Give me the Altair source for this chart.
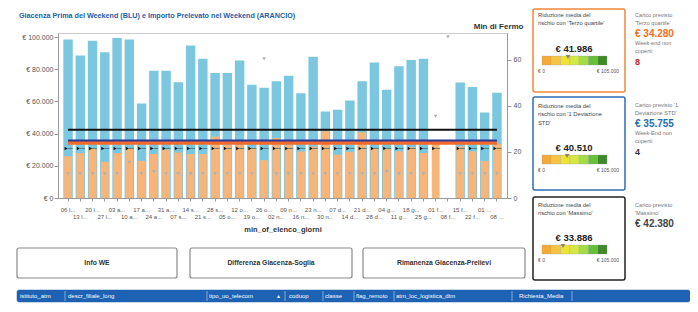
import altair as alt
import pandas as pd

# ---------------- data ----------------
weeks = ["06 l...", "13 l...", "20 l...", "27 l...", "03 a...", "10 a...", "17 a...", "24 a...",
         "31 a...", "07 s...", "14 s...", "21 s...", "28 s...", "05 o...", "12 o...", "19 o...",
         "26 o...", "02 n...", "09 n...", "16 n...", "23 n...", "30 n...", "07 d...", "14 d...",
         "21 d...", "28 d...", "04 g...", "11 g...", "18 g...", "25 g...", "01 f...", "08 f...",
         "15 f...", "22 f...", "01 ...", "08 ..."]
giacenza = [98500, 88500, 97700, 90600, 99400, 98500, 58700, 79000, 79000, 71900, 94800, 86500,
            77700, 77700, 85400, 70400, 68500, 72500, 76000, 65000, 87700, 53700, 54800, 60600,
            72600, 84200, 67300, 81900, 85800, 86500, None, 0, 71700, 68900, 53100, 65400]
prelevato = [26000, 27900, 31000, 22500, 27900, 31000, 23100, 27300, 30000, 28300, 27300, 27300,
             38200, 33000, 33000, 31000, 23500, 37300, 33000, 28900, 32000, 41500, 26900, 28700,
             40800, 31000, 31000, 29000, 31500, 27900, 34500, 0, 32000, 29000, 23100, 33500]
soglia = [30800] * 31 + [None] + [30800] * 4
min_fermo = [10.5, 10.5, 10.5, 10.5, 10.5, 15.5, 10.5, 11.5, 10.5, 10.5, 10.5, 10.5,
             10.5, 10.5, 10.5, 10.5, 60.5, 10.5, 10.5, 10.5, 10.5, 10.5, 10.5, 10.5,
             10.5, 10.5, 11.5, 10.5, 10.5, 10.5, 35.5, 70.0, 10.5, 10.5, 10.5, 10.5]

carico_labels = ["'Terzo quartile'", "'1 Deviazione STD'", "'Massimo'"]
carico = [34280, 35755, 42380]
riduzione = [41986, 40510, 33886]
we_non_coperti = [8, 4]
gauge_max = 105000
gauge_breaks = [0, 15000, 30000, 45000, 60000, 75000, 90000, 105000]
gauge_colors = ["#f4ab35", "#f6c343", "#eee434", "#d4e844", "#a4dc46", "#67c03a", "#3e8a2a"]
buttons = ["Info WE", "Differenza Giacenza-Soglia", "Rimanenza Giacenza-Prelievi"]
table_columns = ["istituto_atm", "descr_filiale_long", "tipo_uo_telecom", "coduop", "classe",
                 "flag_remoto", "atm_loc_logistica_dtm", "Richiesta_Media"]
chart_title = "Giacenza Prima del Weekend (BLU) e Importo Prelevato nel Weekend (ARANCIO)"

FONT = "Liberation Sans"
OX, OY = 58, 33      # page position of the plot origin
W, H = 449, 165


def eur(v):
    return "€ " + f"{v:,.0f}".replace(",", ".")


def P(x, y):
    return x - OX, y - OY


# ---------------- main chart ----------------
df = pd.DataFrame({"week": weeks, "giacenza": giacenza, "prelevato": prelevato,
                   "soglia": soglia, "fermo": min_fermo})
df["terzo"] = carico[0]
df["devstd"] = carico[1]
df["massimo"] = carico[2]

xs = alt.Scale(domain=weeks, paddingInner=0, paddingOuter=0.32)
x_axis = alt.Axis(title="min_of_elenco_giorni", labelAngle=0, labelFontSize=6, labelColor="#555",
                  labelExpr="round(datum.index * 35) % 2 == 0 ? [datum.label, ''] : ['', datum.label]",
                  labelLineHeight=7, tickSize=3, tickColor="#999", domainColor="#999",
                  labelPadding=5, titleFontSize=7.5, titleFontWeight="bold", titleColor="#333",
                  titleY=31, titleBaseline="middle")
X = alt.X("week:N", scale=xs, axis=x_axis)
ymain = alt.Scale(domain=[0, 102500], nice=False)
left_axis = alt.Axis(values=[0, 20000, 40000, 60000, 80000, 100000], title=None, grid=False,
                     labelExpr="'€ ' + replace(format(datum.value, ',.0f'), ',', '.')",
                     labelFontSize=7, labelColor="#555", tickSize=4, tickColor="#999",
                     domainColor="#999", labelPadding=1)

blue = alt.Chart(df).mark_bar(color="#7cc7e0", width=alt.RelativeBandSize(0.77)).encode(
    x=X, y=alt.Y("giacenza:Q", scale=ymain, axis=left_axis))
orange = alt.Chart(df).mark_bar(color="#f7b57a", width=alt.RelativeBandSize(0.64)).encode(
    x=X, y=alt.Y("prelevato:Q", scale=ymain, axis=None))
l_orange = alt.Chart(df).mark_line(color="#f26a2b", strokeWidth=4).encode(
    x=X, y=alt.Y("terzo:Q", scale=ymain, axis=None))
l_blue = alt.Chart(df).mark_line(color="#26399a", strokeWidth=2).encode(
    x=X, y=alt.Y("devstd:Q", scale=ymain, axis=None))
l_black = alt.Chart(df).mark_line(color="#111111", strokeWidth=2).encode(
    x=X, y=alt.Y("massimo:Q", scale=ymain, axis=None))
mk_tri = alt.Chart(df).mark_point(shape="triangle-right", filled=True, color="#111", size=12,
                                  opacity=1, xOffset=-2).encode(
    x=X, y=alt.Y("soglia:Q", scale=ymain, axis=None))
mk_tail = alt.Chart(df).mark_tick(orient="horizontal", color="#2d5c5c", size=5, thickness=1,
                                  xOffset=2).encode(
    x=X, y=alt.Y("soglia:Q", scale=ymain, axis=None))
right_axis = alt.Axis(orient="right", values=[0, 20, 40, 60], title="Min di Fermo", grid=False,
                      titleAngle=0, titleAlign="right", titleBaseline="bottom", titleX=16,
                      titleY=-3, titleFontSize=8, titleFontWeight="bold", titleColor="#333",
                      labelFontSize=7, labelColor="#555", tickSize=4, tickColor="#999",
                      domainColor="#999")
fermo = alt.Chart(df).mark_point(shape="triangle-down", filled=True, color="#b0b0b0", size=14,
                                 opacity=1).encode(
    x=X, y=alt.Y("fermo:Q", scale=alt.Scale(domain=[0, 71.7], nice=False), axis=right_axis))

main = alt.layer(blue, orange, l_orange, l_blue, l_black, mk_tri, mk_tail, fermo).resolve_scale(
    y="independent")


# ---------------- decorations ----------------
def text_layer(rows, align="left", bold=False):
    d = pd.DataFrame(rows)
    return alt.Chart(d).mark_text(align=align, baseline="middle", font=FONT,
                                  fontWeight="bold" if bold else "normal").encode(
        x=alt.X("px:Q", scale=None, axis=None),
        y=alt.Y("py:Q", scale=None, axis=None),
        text="text:N",
        size=alt.Size("size:Q", scale=None, legend=None),
        color=alt.Color("color:N", scale=None, legend=None))


def T(text, x, y, size, color):
    px, py = P(x, y)
    return {"px": px, "py": py, "text": text, "size": size, "color": color}


def R(x1, y1, x2, y2, fill, stroke, sw):
    a, b = P(x1, y1)
    c, d = P(x2, y2)
    return {"px": a, "py": b, "px2": c, "py2": d, "fill": fill, "stroke": stroke, "sw": sw}


rects = []
btn_x = [(17, 177), (190, 352), (363, 525)]
for (a, b) in btn_x:
    rects.append(R(a, 248, b, 278, "#ffffff", "#8a8a8a", 1.2))
rects.append(R(17, 290, 690, 302, "#1d62b3", "#1d62b3", 0.5))
kpi_box_y = [(9, 92), (97, 190), (197, 280)]
kpi_stroke = ["#f0883a", "#2f6db5", "#222222"]
for (a, b), s in zip(kpi_box_y, kpi_stroke):
    rects.append(R(533, a, 625, b, "#ffffff", s, 1.5))
rect_df = pd.DataFrame(rects)
rect_layer = alt.Chart(rect_df).mark_rect(cornerRadius=2).encode(
    x=alt.X("px:Q", scale=None, axis=None), x2="px2:Q",
    y=alt.Y("py:Q", scale=None, axis=None), y2="py2:Q",
    fill=alt.Fill("fill:N", scale=None, legend=None),
    stroke=alt.Stroke("stroke:N", scale=None, legend=None),
    strokeWidth=alt.StrokeWidth("sw:Q", scale=None, legend=None))

sep_x = [65, 207, 285, 323, 354, 394, 512, 572]
sep_df = pd.DataFrame([{"px": P(x, 0)[0], "py": P(0, 291)[1], "py2": P(0, 301)[1]} for x in sep_x])
sep_layer = alt.Chart(sep_df).mark_rule(color="#9dbde3", strokeWidth=0.8).encode(
    x=alt.X("px:Q", scale=None, axis=None),
    y=alt.Y("py:Q", scale=None, axis=None), y2="py2:Q")

gauge_y = [(56, 65), (155, 164), (245, 254)]
g_rows = []
for (ga, gb) in gauge_y:
    for i, c in enumerate(gauge_colors):
        g_rows.append({"start": gauge_breaks[i], "end": gauge_breaks[i + 1], "fill": c,
                       "py": P(0, ga)[1], "py2": P(0, gb)[1]})
g_df = pd.DataFrame(g_rows)
gx = alt.Scale(domain=[0, gauge_max], range=[P(542, 0)[0], P(607, 0)[0]])
gauge_layer = alt.Chart(g_df).mark_rect(stroke="#9a9a9a", strokeWidth=0.3).encode(
    x=alt.X("start:Q", scale=gx, axis=None), x2="end:Q",
    y=alt.Y("py:Q", scale=None, axis=None), y2="py2:Q",
    fill=alt.Fill("fill:N", scale=None, legend=None))
ptr_df = pd.DataFrame({"v": riduzione, "py": [P(0, ga + 1)[1] for (ga, gb) in gauge_y]})
ptr_layer = alt.Chart(ptr_df).mark_point(shape="triangle-down", filled=True, color="#8a8a6a",
                                         size=22, opacity=1).encode(
    x=alt.X("v:Q", scale=gx, axis=None),
    y=alt.Y("py:Q", scale=None, axis=None))

left_norm, left_bold, center_bold, right_norm = [], [], [], []
left_bold.append(T(chart_title, 19, 16, 7.2, "#1d5ea8"))
for (a, b), name in zip(btn_x, buttons):
    center_bold.append(T(name, (a + b) / 2, 263, 6.8, "#333333"))
col_x = [20, 68, 209, 289, 325, 356, 396, 519]
for x, name in zip(col_x, table_columns):
    left_norm.append(T(name, x, 296, 6, "#ffffff"))
left_norm.append(T("▲", 276, 296, 5, "#ffffff"))

box_titles = [["Riduzione media del", "rischio con " + carico_labels[0]],
              ["Riduzione media del", "rischio con '1 Deviazione", "STD'"],
              ["Riduzione media del", "rischio con " + carico_labels[2]]]
box_title_y = [15, 106, 205]
value_y = [49, 148, 238]
glab_y = [71, 170, 260]
for k in range(3):
    for j, line in enumerate(box_titles[k]):
        left_norm.append(T(line, 538, box_title_y[k] + 8.3 * j, 5.8, "#444444"))
    center_bold.append(T(eur(riduzione[k]), 574, value_y[k], 9.5, "#222222"))
    left_norm.append(T(eur(0), 538, glab_y[k], 5, "#555555"))
    right_norm.append(T(eur(gauge_max), 619, glab_y[k], 5, "#555555"))

side = [
    (["Carico previsto", carico_labels[0]], 15, "#f07022", 34, ["Week-end non", "coperti:"], "#c0262c"),
    (["Carico previsto '1", "Deviazione STD'"], 105, "#1f6db5", 124, ["Week-End non", "coperti:"], "#333333"),
    (["Carico previsto", carico_labels[2]], 205, "#444444", 224, None, None),
]
for k, (lines, y0, vcol, vy, lines2, ncol) in enumerate(side):
    for j, line in enumerate(lines):
        left_norm.append(T(line, 635, y0 + 8.3 * j, 5.6, "#777777"))
    left_bold.append(T(eur(carico[k]), 635, vy, 10, vcol))
    if lines2:
        for j, line in enumerate(lines2):
            left_norm.append(T(line, 635, vy + 9 + 8.3 * j, 5.6, "#777777"))
        left_bold.append(T(str(we_non_coperti[k]), 635, vy + 28, 9, ncol))

texts = [text_layer(left_norm, "left"), text_layer(left_bold, "left", True),
         text_layer(center_bold, "center", True), text_layer(right_norm, "right")]

chart = alt.layer(main, rect_layer, sep_layer, gauge_layer, ptr_layer, *texts).resolve_scale(
    x="independent", y="independent", color="independent", size="independent",
    fill="independent", stroke="independent", strokeWidth="independent"
).properties(
    width=W, height=H,
    autosize=alt.AutoSizeParams(type="none"),
    padding={"left": OX - 8, "top": OY - 8, "right": 682 - (OX - 8) - W, "bottom": 296 - (OY - 8) - H},
).configure(font=FONT).configure_view(stroke="#cccccc")

chart.save("out.html", embed_options={"renderer": "svg", "actions": False})
